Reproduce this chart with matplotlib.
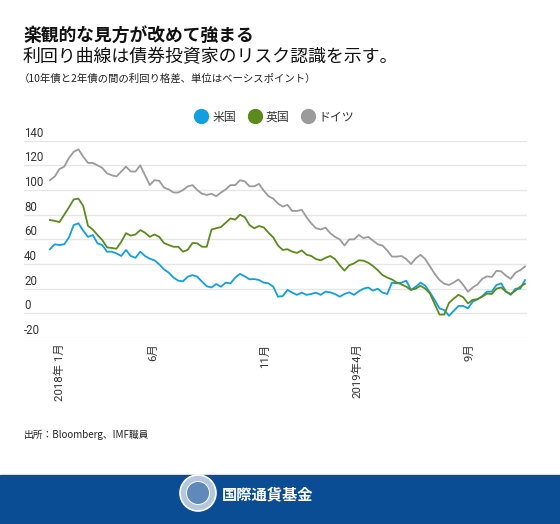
import matplotlib
matplotlib.use("Agg")
import matplotlib.pyplot as plt
from matplotlib.lines import Line2D
from matplotlib.patches import Rectangle, Ellipse
from matplotlib import transforms

# Donnees (une valeur par semaine, points de base)
germany = [108, 111, 117, 119, 126, 131, 133, 127, 122, 122,
           120, 118, 113.5, 112, 111, 115, 119, 115, 115, 120,
           112, 104, 108, 107.5, 102, 100.5, 98, 98, 100, 103,
           104, 100, 97, 96, 97, 95, 98, 100.5, 104, 104,
           108, 107, 103, 103, 105, 99.5, 95, 93, 89, 86.5,
           88, 83, 83, 84, 78, 73, 69, 68, 69.5, 65,
           62, 60, 55, 60, 60, 63.5, 61, 62, 59, 56,
           55, 51, 46, 46, 46.5, 44, 40, 44.5, 47.5, 44,
           38, 32, 27, 24, 23, 25, 27.5, 23, 17.5, 21,
           23.5, 28, 30, 29.5, 34.5, 34, 30.5, 28, 33, 35,
           38]
uk = [75.7, 75, 74, 80, 86, 92.4, 93, 87, 71, 68,
      63.5, 59.5, 53.5, 53, 52.4, 58, 65, 63, 64, 67.5,
      65.4, 62, 64, 62, 57, 55.4, 54, 54, 50, 51.5,
      57, 56.8, 54, 54, 68, 69, 70, 73.5, 77, 76,
      80, 78, 71.6, 69, 70.8, 69.7, 65.4, 61.6, 55, 51.4,
      52, 50, 49, 51, 47.6, 46.5, 44, 43, 45, 46.5,
      44, 39, 34.6, 39, 40.5, 43, 42.7, 41, 38.4, 35,
      31, 29, 27.5, 25, 23.5, 21.6, 19, 20, 22.4, 20,
      16, 7.5, -1, -1, 8.5, 12, 15, 13, 8, 11,
      11.4, 13.5, 16, 15.7, 20, 21, 17.6, 15.7, 18.4, 21.6,
      24]
us = [52, 56, 55.4, 56, 61.6, 71.6, 73, 67, 62, 63.5,
      56.8, 55.4, 50, 50, 48.6, 46.5, 51.4, 46.5, 45, 50,
      46.5, 44.3, 43, 39.7, 35.7, 33, 29, 26.5, 26, 29.7,
      31, 29.7, 25.7, 22, 21, 23.8, 21.6, 24.9, 24.3, 29,
      32, 30, 27.6, 27.8, 27, 24.9, 24.3, 21.6, 13.5, 14,
      19, 16.8, 15, 16.8, 15, 15.7, 16.8, 15, 17.6, 17,
      15.7, 13.5, 15.7, 17, 15, 17.8, 20, 21, 18.4, 20,
      16.8, 15.7, 24.9, 24.3, 24.9, 26.5, 19, 21.6, 24.9, 22.4,
      16.8, 10.8, 4, 2.7, -2, 2, 6, 6, 4, 9.5,
      11.4, 14, 17.6, 17.6, 23, 24.3, 17.6, 15, 20, 20,
      27]

names = ['米国', '英国', 'ドイツ']
colors = ['#129fdf', '#5b8b1c', '#9b9b9b']
yticks = [-20, 0, 20, 40, 60, 80, 100, 120, 140]
tick_pos = [2.1, 21.7, 45.3, 64.6, 88.2]
tick_labels = ['2018年 1月', '6月', '11月', '2019年4月', '9月']

plt.rcParams['font.family'] = ['Roboto', 'Noto Sans CJK JP', 'DejaVu Sans']
jp = ['Noto Sans CJK JP', 'DejaVu Sans']
W, H = 560, 524

def fx(px):
    return px / W

def fy(py):
    return 1 - py / H

fig = plt.figure(figsize=(W / 100, H / 100), dpi=100)

# titres
fig.text(fx(23), fy(36), '楽観的な見方が改めて強まる', family=jp, fontsize=12.8,
         fontweight='bold', va='center', color='#111111')
fig.text(fx(23), fy(57), '利回り曲線は債券投資家のリスク認識を示す。', family=jp,
         fontsize=12.9, va='center', color='#111111')
fig.text(fx(19), fy(79), '（10年債と2年債の間の利回り格差、単位はベーシスポイント）',
         family=jp, fontsize=7.5, va='center', color='#222222')

ax = fig.add_axes([fx(24), fy(338), (527 - 24) / W, (338 - 140.7) / H])
x = list(range(len(us)))
ax.set_xlim(-5.47, len(us) - 1 + 0.42)
ax.set_ylim(-20, 140)

for v in yticks:
    ax.axhline(v, color='#e6e6e6', lw=1, zorder=0)
trans = transforms.offset_copy(ax.get_yaxis_transform(), fig=fig, x=0, y=1, units='dots')
for v in yticks:
    ax.text(0, v, str(v), transform=trans, ha='left', va='bottom',
            fontsize=8.3, color='#333333')

for serie, c in zip([us, uk, germany], colors):
    ax.plot(x, serie, color=c, lw=1.3, solid_joinstyle='round')

for s in ax.spines.values():
    s.set_visible(False)
ax.set_yticks([])
ax.set_xticks(tick_pos)
ax.set_xticklabels(tick_labels, rotation=90, va='top', ha='center',
                   fontsize=8.2, color='#333333')
ax.tick_params(axis='x', length=0, pad=4)

# legende
handles = [Line2D([], [], marker='o', ls='none', markersize=10, color=c) for c in colors]
fig.legend(handles, names, ncol=3, loc='center', bbox_to_anchor=(fx(275), fy(117)),
           frameon=False, fontsize=8.6, handletextpad=0.45, columnspacing=1.0,
           handlelength=1.0, labelcolor='#333333')

fig.text(fx(24), fy(435), '出所：Bloomberg、IMF職員', family=jp, fontsize=7,
         va='center', color='#222222')

# bandeau du bas
fig.add_artist(Rectangle((0, 0), 1, 49 / H, transform=fig.transFigure,
                         color='#0b4d94', zorder=0))
fig.add_artist(Ellipse((fx(198), fy(493)), 36 / W, 36 / H, transform=fig.transFigure,
                       facecolor='#b3c7df', edgecolor='white', lw=1.2))
fig.add_artist(Ellipse((fx(198), fy(493)), 23 / W, 23 / H, transform=fig.transFigure,
                       facecolor='#5f88bb', edgecolor='white', lw=0.7))
fig.text(fx(222), fy(494), '国際通貨基金', family=jp, color='white', fontsize=11,
         fontweight='bold', va='center')

fig.savefig('out.png', dpi=100)
